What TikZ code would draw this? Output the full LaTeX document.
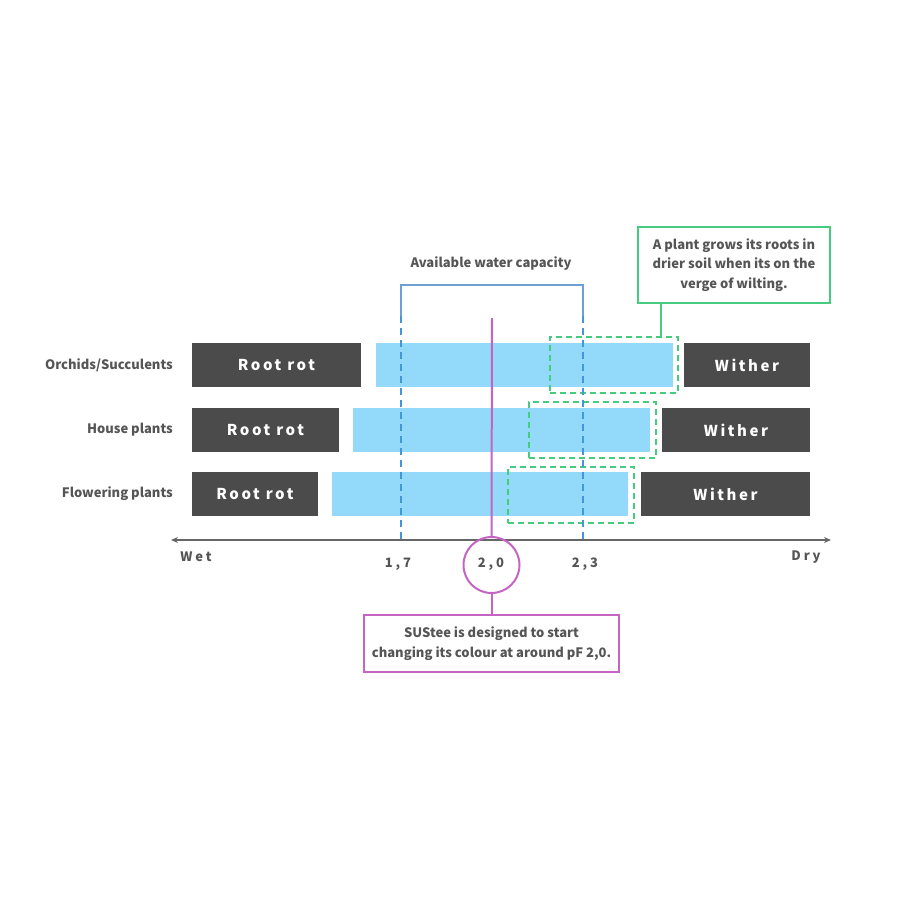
\documentclass[tikz,border=0pt]{standalone}
\usepackage{fontspec}
\setmainfont{Noto Sans CJK JP}
\newfontfamily\boxfont[LetterSpace=17]{Noto Sans CJK JP}
\newfontfamily\axisfont[LetterSpace=22]{Noto Sans CJK JP}
\usetikzlibrary{arrows.meta}
\definecolor{darkbox}{HTML}{4B4B4B}
\definecolor{barblue}{HTML}{92D9FA}
\definecolor{txtgray}{HTML}{555555}
\definecolor{brblue}{HTML}{6FA0D2}
\definecolor{dashblue}{HTML}{4496D6}
\definecolor{grn}{HTML}{45CC7E}
\definecolor{mag}{HTML}{C564C2}
\tikzset{
  darkrect/.style={fill=darkbox, draw=none, inner sep=0pt, minimum height=44pt, text=white, font=\boxfont\bfseries\fontsize{15}{17}\selectfont},
  bluebar/.style={fill=barblue, draw=none, inner sep=0pt, minimum height=44pt},
  greendash/.style={draw=grn, line width=2pt, dash pattern=on 6pt off 4pt, inner sep=0pt, minimum height=56pt},
  rowlabel/.style={anchor=east, text=txtgray, font=\bfseries\fontsize{13}{15}\selectfont, inner sep=0pt},
  axlabel/.style={text=txtgray, font=\axisfont\bfseries\fontsize{13}{15}\selectfont, inner sep=0pt},
  note/.style={text=txtgray, font=\bfseries\fontsize{13}{19.5}\selectfont, align=center, inner sep=0pt, line width=2pt},
}
\begin{document}
\begin{tikzpicture}[x=1pt,y=-1pt]
\useasboundingbox (0,0) rectangle (900,900);
% row labels
\node[rowlabel] (l1) at (173,365) {Orchids/Succulents};
\node[rowlabel] (l2) at (173,430) {House plants};
\node[rowlabel] (l3) at (173,494) {Flowering plants};
% blue bars
\node[bluebar, minimum width=297pt] (b1) at (524.5,365) {};
\node[bluebar, minimum width=297pt] (b2) at (501.5,430) {};
\node[bluebar, minimum width=296pt] (b3) at (480,494) {};
% dark boxes
\node[darkrect, minimum width=169pt] (r1) at (276.5,365) {Root rot};
\node[darkrect, minimum width=147pt] (r2) at (265.5,430) {Root rot};
\node[darkrect, minimum width=126pt] (r3) at (255,494) {Root rot};
\node[darkrect, minimum width=126pt] (w1) at (747,365) {Wither};
\node[darkrect, minimum width=148pt] (w2) at (736,430) {Wither};
\node[darkrect, minimum width=169pt] (w3) at (725.5,494) {Wither};
% green dashed boxes
\node[greendash, minimum width=128pt] (g1) at (614,365) {};
\node[greendash, minimum width=127pt] (g2) at (592.5,430) {};
\node[greendash, minimum width=126pt] (g3) at (571,494.5) {};
% available water capacity bracket
\node[note] (awc) at (491,264) {Available water capacity};
\coordinate (bl) at (401,285);
\coordinate (br) at (583,285);
\coordinate (bl2) at (401,316);
\coordinate (br2) at (583,316);
\coordinate (bl3) at (401,540);
\coordinate (br3) at (583,540);
\draw[brblue, line width=2pt] (bl2) -- (bl) -- (br) -- (br2);
\draw[dashblue, line width=1.8pt, dash pattern=on 7pt off 5pt] (bl2) -- (bl3);
\draw[dashblue, line width=1.8pt, dash pattern=on 7pt off 5pt] (br2) -- (br3);
% green callout
\node[note, draw=grn, minimum width=192pt, minimum height=76pt] (gc) at (734,265) {A plant grows its roots in\\drier soil when its on the\\verge of wilting.};
\draw[grn, line width=2pt] (gc.south -| 661,0) -- (g1.north -| 661,0);
% axis
\coordinate (axl) at (171,540);
\coordinate (axr) at (831,540);
\draw[txtgray!90, line width=1.6pt, {Stealth[length=7pt,width=6pt]}-{Stealth[length=7pt,width=6pt]}] (axl) -- (axr);
\node[axlabel] (wet) at (196,557) {Wet};
\node[axlabel] (dry) at (806,557) {Dry};
\node[axlabel] (t17) at (398,564) {1,7};
\node[axlabel] (t20) at (491,564) {2,0};
\node[axlabel] (t23) at (585,564) {2,3};
% magenta
\node[draw=mag, line width=2pt, circle, minimum size=56pt, inner sep=0pt] (circ) at (491.5,565) {};
\coordinate (mtop) at (492,318);
\draw[mag, line width=2pt] (mtop) -- (circ.north);
\node[note, draw=mag, minimum width=255pt, minimum height=57pt] (mb) at (491.5,643.5) {SUStee is designed to start\\changing its colour at around pF 2,0.};
\draw[mag, line width=2pt] (circ.south) -- (mb.north);
\end{tikzpicture}
\end{document}
